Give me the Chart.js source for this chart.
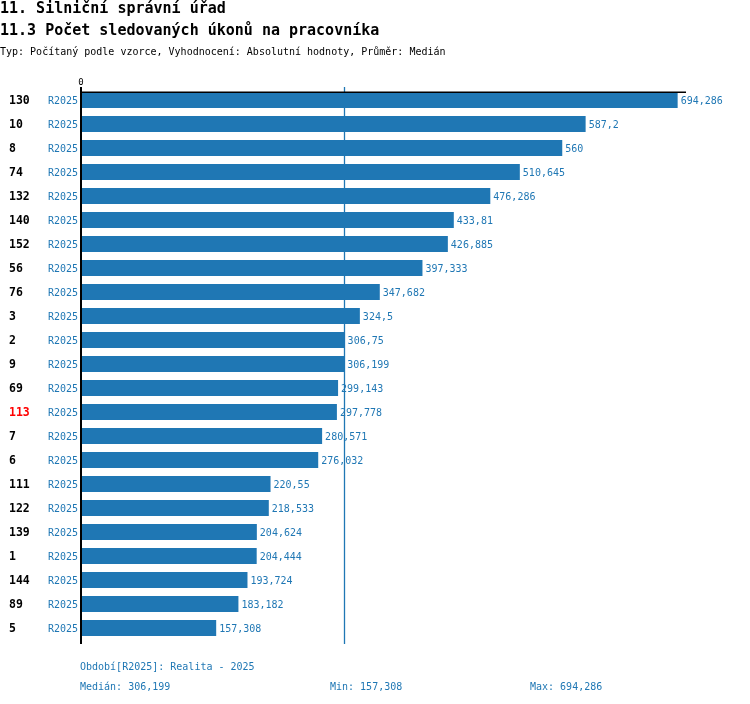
<!DOCTYPE html>
<html>
<head>
<meta charset="utf-8">
<script src="https://cdn.jsdelivr.net/npm/chart.js@4/dist/chart.umd.min.js"></script>
<style>
  html, body { margin: 0; padding: 0; background: #fff; }
  #wrap { position: relative; width: 750px; height: 704px; }
  canvas { display: block; }
</style>
</head>
<body>
<div id="wrap"><canvas id="c" width="750" height="704"></canvas></div>
<script>
// ---- data ----
const categories = ['130','10','8','74','132','140','152','56','76','3','2','9','69','113','7','6','111','122','139','1','144','89','5'];
const values = [694.286,587.2,560,510.645,476.286,433.81,426.885,397.333,347.682,324.5,306.75,306.199,299.143,297.778,280.571,276.032,220.55,218.533,204.624,204.444,193.724,183.182,157.308];
const periodLabel = 'R2025';
const highlighted = ['113'];
const medianValue = 306.199;
const minValue = 157.308;
const maxValue = 694.286;
const xTicks = [0];
const titleLines = ['11. Silniční správní úřad', '11.3 Počet sledovaných úkonů na pracovníka'];
const subtitleText = 'Typ: Počítaný podle vzorce, Vyhodnocení: Absolutní hodnoty, Průměr: Medián';
const footerPeriod = 'Období[R2025]: Realita - 2025';

const BLUE = '#1f77b4';
const MONO = '"DejaVu Sans Mono", "Liberation Mono", monospace';
const fmt = v => String(v).replace('.', ',');

const decor = {
  id: 'decor',
  beforeDatasetsDraw(chart) {
    const ctx = chart.ctx, x = chart.scales.x, area = chart.chartArea;
    ctx.save();
    // median line
    const mx = Math.round(x.getPixelForValue(medianValue)) + 0.5;
    ctx.strokeStyle = BLUE; ctx.lineWidth = 1.3;
    ctx.beginPath(); ctx.moveTo(mx, area.top - 1); ctx.lineTo(mx, area.bottom + 4); ctx.stroke();
    ctx.restore();
  },
  afterDatasetsDraw(chart) {
    const ctx = chart.ctx, x = chart.scales.x, y = chart.scales.y, area = chart.chartArea;
    const meta = chart.getDatasetMeta(0);
    ctx.save();
    // top line at top of first bar
    const firstBar = meta.data[0];
    const topY = Math.round(firstBar.y - firstBar.height / 2);
    ctx.strokeStyle = '#000'; ctx.lineWidth = 1.5;
    ctx.beginPath(); ctx.moveTo(area.left - 1, topY + 0.25); ctx.lineTo(area.right, topY + 0.25); ctx.stroke();
    // left axis
    const x0 = x.getPixelForValue(0);
    ctx.lineWidth = 2;
    ctx.beginPath(); ctx.moveTo(x0, area.top - 1); ctx.lineTo(x0, area.bottom + 4); ctx.stroke();
    // tick label 0
    ctx.fillStyle = '#000';
    ctx.font = '9px ' + MONO; ctx.textAlign = 'center'; ctx.textBaseline = 'alphabetic';
    xTicks.forEach(t => ctx.fillText(String(t), x.getPixelForValue(t), 85));
    // labels
    ctx.textBaseline = 'middle';
    meta.data.forEach((bar, i) => {
      const cy = bar.y + 1;
      // value label
      ctx.font = '10px ' + MONO; ctx.fillStyle = BLUE; ctx.textAlign = 'left';
      ctx.fillText(fmt(values[i]), bar.x + 3, cy);
      // period label
      ctx.textAlign = 'right';
      ctx.fillText(periodLabel, area.left - 3, cy);
      // category label
      ctx.font = 'bold 11.5px ' + MONO;
      ctx.fillStyle = highlighted.includes(categories[i]) ? '#ff0000' : '#000';
      ctx.textAlign = 'left';
      ctx.fillText(categories[i], 9, cy);
    });
    // header
    ctx.textBaseline = 'alphabetic'; ctx.textAlign = 'left'; ctx.fillStyle = '#000';
    ctx.font = 'bold 15px ' + MONO;
    ctx.fillText(titleLines[0], 0, 13);
    ctx.fillText(titleLines[1], 0, 35);
    ctx.font = '10px ' + MONO;
    ctx.fillText(subtitleText, 0, 55);
    // footer
    ctx.fillStyle = BLUE;
    ctx.fillText(footerPeriod, 80, 670);
    ctx.fillText('Medián: ' + fmt(medianValue), 80, 690);
    ctx.fillText('Min: ' + fmt(minValue), 330, 690);
    ctx.fillText('Max: ' + fmt(maxValue), 530, 690);
    ctx.restore();
  }
};

new Chart(document.getElementById('c'), {
  type: 'bar',
  data: {
    labels: categories,
    datasets: [{
      data: values,
      backgroundColor: BLUE,
      borderWidth: 0,
      categoryPercentage: 1,
      barPercentage: 16 / 24
    }]
  },
  options: {
    indexAxis: 'y',
    responsive: false,
    devicePixelRatio: 1,
    animation: false,
    layout: { padding: { left: 81, right: 64, top: 88, bottom: 64 } },
    scales: {
      x: { display: false, min: 0, max: 704 },
      y: { display: false }
    },
    plugins: { legend: { display: false }, tooltip: { enabled: false }, title: { display: false } }
  },
  plugins: [decor]
});
</script>
</body>
</html>
